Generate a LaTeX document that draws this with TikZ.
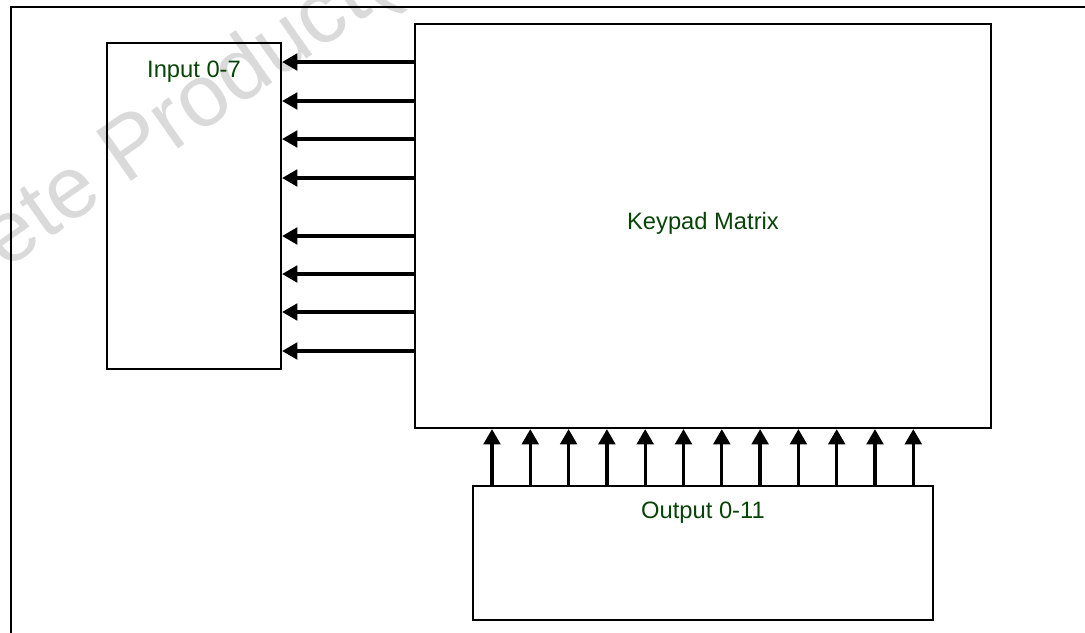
\documentclass[tikz,border=0pt]{standalone}
\usepackage{fontspec}
\setmainfont{Liberation Sans}
\usetikzlibrary{arrows.meta,fit}
\definecolor{lblgreen}{RGB}{8,68,8}
\definecolor{wmgray}{RGB}{218,218,218}
\tikzset{
  blockbox/.style={draw=black,line width=1.6pt,inner sep=0pt},
  frameline/.style={draw=black,line width=2pt},
  lbl/.style={text=lblgreen,font=\fontsize{17.8pt}{20pt}\selectfont,anchor=base,inner sep=0pt},
  sig/.style={line width=2.5pt,-{Triangle[length=11.5pt,width=12.5pt]}},
  wmark/.style={text=wmgray,font=\fontsize{66pt}{75pt}\selectfont,anchor=base west,inner sep=0pt,rotate=35}
}
\begin{document}
\begin{tikzpicture}[x=0.75pt,y=-0.75pt]
\useasboundingbox (0,0) rectangle (1085,632);
\clip (0,0) rectangle (1085,632);
% watermark
\node[wmark] (wm) at (-183,402) {Obsolete Product(s)};
% outer frame
\draw[frameline] (11,700) -- (11,7) -- (1200,7);
% blocks
\node[blockbox,fit={(107,43)(281,369)}] (in) {};
\node[blockbox,fit={(415,24)(991,428)}] (kp) {};
\node[blockbox,fit={(473,486)(933,620)}] (out) {};
% labels
\node[lbl] (inl) at (194,77) {Input 0-7};
\node[lbl] (kpl) at (703,229) {Keypad Matrix};
\node[lbl] (outl) at (703,518) {Output 0-11};
% input signals
\foreach \y [count=\i] in {62,101,139,178,236,274,312,351}
  \draw[sig] (kp.west |- 0,\y) -- (in.east |- 0,\y);
% output signals
\foreach \i in {0,...,11}
  \draw[sig] (out.north -| {492+38.3*\i},0) -- (kp.south -| {492+38.3*\i},0);
\end{tikzpicture}
\end{document}
